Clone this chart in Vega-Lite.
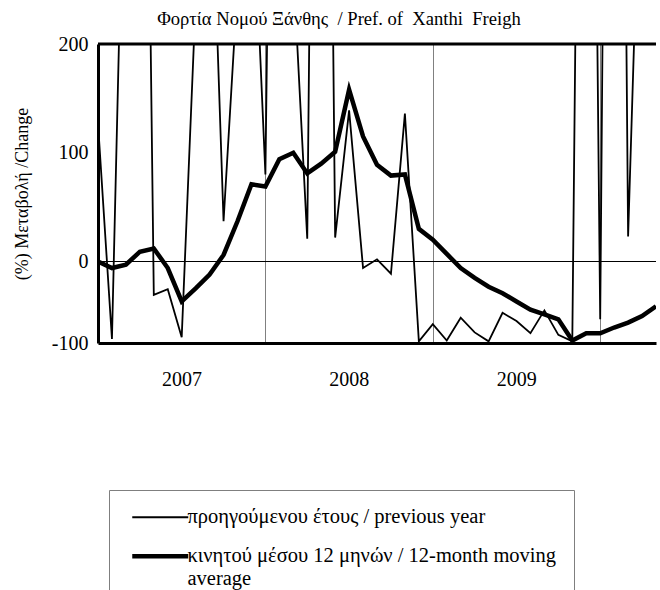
{
  "$schema": "https://vega.github.io/schema/vega-lite/v6.json",
  "width": 558,
  "height": 299,
  "autosize": {"type": "none"},
  "padding": {"left": 98, "top": 44, "right": 4, "bottom": 247},
  "background": "white",
  "config": {"font": "Liberation Serif", "view": {"stroke": null}},
  "title": {"text": "Φορτία Νομού Ξάνθης \u00a0/ Pref. of \u00a0Xanthi \u00a0Freigh", "fontSize": 18.6, "fontWeight": "normal", "font": "Liberation Serif", "color": "black", "offset": 5, "dx": -38},
  "datasets": {
    "series": [
      {"month": "2007-01", "series": "prev", "value": 127},
      {"month": "2007-02", "series": "prev", "value": -95},
      {"month": "2007-03", "series": "prev", "value": 470},
      {"month": "2007-04", "series": "prev", "value": 1000},
      {"month": "2007-05", "series": "prev", "value": -41},
      {"month": "2007-06", "series": "prev", "value": -34},
      {"month": "2007-07", "series": "prev", "value": -93},
      {"month": "2007-08", "series": "prev", "value": 240},
      {"month": "2007-09", "series": "prev", "value": 415},
      {"month": "2007-10", "series": "prev", "value": 37},
      {"month": "2007-11", "series": "prev", "value": 253},
      {"month": "2007-12", "series": "prev", "value": 375},
      {"month": "2008-01", "series": "prev", "value": 80},
      {"month": "2008-02", "series": "prev", "value": 1100},
      {"month": "2008-03", "series": "prev", "value": 270},
      {"month": "2008-04", "series": "prev", "value": 21},
      {"month": "2008-05", "series": "prev", "value": 1300},
      {"month": "2008-06", "series": "prev", "value": 22},
      {"month": "2008-07", "series": "prev", "value": 139},
      {"month": "2008-08", "series": "prev", "value": -8},
      {"month": "2008-09", "series": "prev", "value": 2},
      {"month": "2008-10", "series": "prev", "value": -15},
      {"month": "2008-11", "series": "prev", "value": 136},
      {"month": "2008-12", "series": "prev", "value": -98},
      {"month": "2009-01", "series": "prev", "value": -77},
      {"month": "2009-02", "series": "prev", "value": -97},
      {"month": "2009-03", "series": "prev", "value": -69},
      {"month": "2009-04", "series": "prev", "value": -87},
      {"month": "2009-05", "series": "prev", "value": -98},
      {"month": "2009-06", "series": "prev", "value": -63},
      {"month": "2009-07", "series": "prev", "value": -73},
      {"month": "2009-08", "series": "prev", "value": -88},
      {"month": "2009-09", "series": "prev", "value": -60},
      {"month": "2009-10", "series": "prev", "value": -90},
      {"month": "2009-11", "series": "prev", "value": -98},
      {"month": "2009-12", "series": "prev", "value": 1200},
      {"month": "2010-01", "series": "prev", "value": -71},
      {"month": "2010-02", "series": "prev", "value": 1500},
      {"month": "2010-03", "series": "prev", "value": 23},
      {"month": "2010-04", "series": "prev", "value": 440},
      {"month": "2010-05", "series": "prev", "value": 400},
      {"month": "2007-01", "series": "ma", "value": 0},
      {"month": "2007-02", "series": "ma", "value": -8},
      {"month": "2007-03", "series": "ma", "value": -4},
      {"month": "2007-04", "series": "ma", "value": 9},
      {"month": "2007-05", "series": "ma", "value": 12},
      {"month": "2007-06", "series": "ma", "value": -8},
      {"month": "2007-07", "series": "ma", "value": -49},
      {"month": "2007-08", "series": "ma", "value": -33},
      {"month": "2007-09", "series": "ma", "value": -16},
      {"month": "2007-10", "series": "ma", "value": 6},
      {"month": "2007-11", "series": "ma", "value": 37},
      {"month": "2007-12", "series": "ma", "value": 71},
      {"month": "2008-01", "series": "ma", "value": 69},
      {"month": "2008-02", "series": "ma", "value": 94},
      {"month": "2008-03", "series": "ma", "value": 100},
      {"month": "2008-04", "series": "ma", "value": 81},
      {"month": "2008-05", "series": "ma", "value": 90},
      {"month": "2008-06", "series": "ma", "value": 101},
      {"month": "2008-07", "series": "ma", "value": 158},
      {"month": "2008-08", "series": "ma", "value": 115},
      {"month": "2008-09", "series": "ma", "value": 89},
      {"month": "2008-10", "series": "ma", "value": 79},
      {"month": "2008-11", "series": "ma", "value": 80},
      {"month": "2008-12", "series": "ma", "value": 30},
      {"month": "2009-01", "series": "ma", "value": 20},
      {"month": "2009-02", "series": "ma", "value": 7},
      {"month": "2009-03", "series": "ma", "value": -8},
      {"month": "2009-04", "series": "ma", "value": -20},
      {"month": "2009-05", "series": "ma", "value": -31},
      {"month": "2009-06", "series": "ma", "value": -39},
      {"month": "2009-07", "series": "ma", "value": -49},
      {"month": "2009-08", "series": "ma", "value": -59},
      {"month": "2009-09", "series": "ma", "value": -65},
      {"month": "2009-10", "series": "ma", "value": -71},
      {"month": "2009-11", "series": "ma", "value": -97},
      {"month": "2009-12", "series": "ma", "value": -88},
      {"month": "2010-01", "series": "ma", "value": -88},
      {"month": "2010-02", "series": "ma", "value": -81},
      {"month": "2010-03", "series": "ma", "value": -75},
      {"month": "2010-04", "series": "ma", "value": -67},
      {"month": "2010-05", "series": "ma", "value": -55}
    ]
  },
  "layer": [
    {
      "data": {"values": [{"value": 0}]},
      "mark": {"type": "rule", "color": "black", "strokeWidth": 1},
      "encoding": {"y": {"field": "value", "type": "quantitative"}}
    },
    {
      "data": {"values": [{"value": 200}]},
      "mark": {"type": "rule", "color": "black", "strokeWidth": 3},
      "encoding": {"y": {"field": "value", "type": "quantitative"}}
    },
    {
      "data": {"name": "series"},
      "transform": [
        {"calculate": "datum.series == 'prev' ? 'προηγούμενου έτους / previous year' : 'κινητού μέσου 12 μηνών / 12-month moving average'", "as": "label"}
      ],
      "mark": {"type": "line", "clip": true, "color": "black", "strokeJoin": "miter"},
      "encoding": {
        "x": {
          "field": "month", "type": "ordinal", "sort": null,
          "scale": {"type": "point", "padding": 0},
          "axis": {
            "values": ["2008-01", "2009-01", "2010-01"],
            "labelExpr": "'' + (toNumber(substring(datum.value, 0, 4)) - 1)",
            "labelOffset": -84,
            "labelAngle": 0,
            "grid": true, "gridColor": "#808080", "gridWidth": 1,
            "ticks": false,
            "domainColor": "black", "domainWidth": 3,
            "labelFontSize": 20, "labelFont": "Liberation Serif", "labelColor": "black",
            "labelPadding": 26,
            "title": null
          }
        },
        "y": {
          "field": "value", "type": "quantitative",
          "scale": {"domain": [-100, 0, 200], "range": [299, 217.5, 0], "nice": false, "zero": false},
          "axis": {
            "values": [-100, 0, 100, 200],
            "labelExpr": "datum.value < 0 ? '-' + abs(datum.value) : '' + datum.value",
            "grid": false,
            "ticks": false,
            "domainColor": "black", "domainWidth": 3,
            "labelFontSize": 20, "labelFont": "Liberation Serif", "labelColor": "black",
            "labelPadding": 10,
            "title": "(%) Μεταβολή /Change",
            "titleFontSize": 18, "titleFont": "Liberation Serif", "titleFontWeight": "normal", "titleColor": "black",
            "titlePadding": 20
          }
        },
        "strokeWidth": {
          "field": "label", "type": "ordinal",
          "scale": {"type": "ordinal", "domain": ["προηγούμενου έτους / previous year", "κινητού μέσου 12 μηνών / 12-month moving average"], "range": [1.8, 4.5]},
          "legend": {
            "title": null,
            "orient": "none",
            "legendX": 11,
            "legendY": 446,
            "direction": "vertical",
            "strokeColor": "#7f7f7f",
            "fillColor": "white",
            "padding": 17,
            "symbolType": "M-5.6,0H5.6",
            "symbolSize": 100,
            "symbolOffset": 24,
            "symbolStrokeColor": "black",
            "labelFontSize": 20.5,
            "labelFont": "Liberation Serif",
            "labelColor": "black",
            "labelLimit": 0,
            "labelOffset": 17,
            "rowPadding": 18,
            "labelExpr": "datum.label == 'κινητού μέσου 12 μηνών / 12-month moving average' ? ['κινητού μέσου 12 μηνών / 12-month moving', 'average'] : datum.label",
            "encode": {
              "symbols": {"update": {"strokeWidth": {"signal": "datum.value == 'κινητού μέσου 12 μηνών / 12-month moving average' ? 4.5 : 1.8"}}}
            }
          }
        },
        "detail": {"field": "series"}
      }
    }
  ]
}
